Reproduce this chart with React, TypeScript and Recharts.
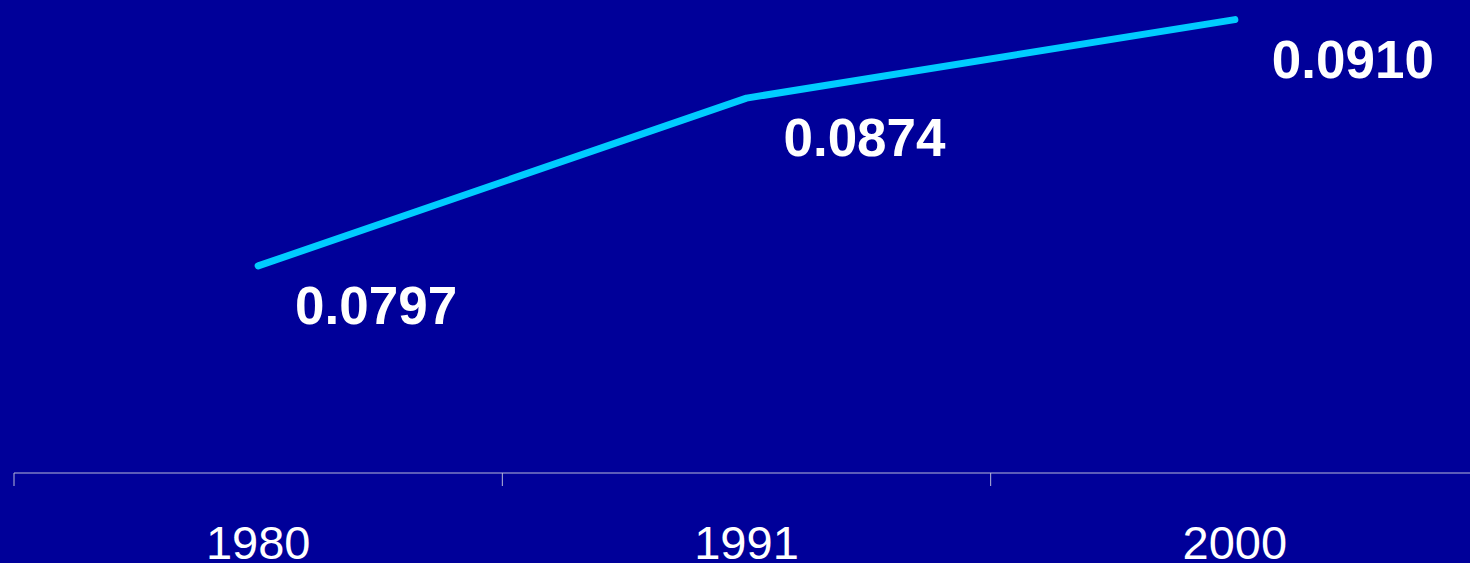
import React from "react";
import { LineChart, Line, XAxis, YAxis, LabelList } from "recharts";

const years = ["1980", "1991", "2000"];
const values = [0.0797, 0.0874, 0.091];

const data = years.map((year, i) => ({ year, value: values[i] }));

const BG = "#000099";
const LINE = "#00CCFF";
const AXIS = "#B8B8D8";
const FONT = "'Liberation Sans', Arial, sans-serif";

const CHART_W = 1484;
const MARGIN_L = 14;
const MARGIN_R = 5;
const BAND = (CHART_W - MARGIN_L - MARGIN_R) / years.length;

function YearTick(props: any) {
  const { x, y, payload } = props;
  return (
    <g>
      <line x1={x - BAND / 2} x2={x - BAND / 2} y1={y} y2={y + 13} stroke={AXIS} strokeWidth={1} />
      <text x={x} y={y + 86} textAnchor="middle" fill="#ffffff" fontSize={47} fontFamily={FONT}>
        {payload.value}
      </text>
    </g>
  );
}

function ValueLabel(props: any) {
  const { x, y, value } = props;
  return (
    <text x={x + 118} y={y + 58} textAnchor="middle" fill="#ffffff" fontSize={53} fontWeight="bold" fontFamily={FONT}>
      {Number(value).toFixed(4)}
    </text>
  );
}

export default function App() {
  return (
    <div style={{ position: "absolute", left: 0, top: 0, width: 1470, height: 563, overflow: "hidden", background: BG }}>
      <LineChart width={CHART_W} height={563} data={data} margin={{ top: 0, right: MARGIN_R, bottom: 0, left: MARGIN_L }}>
        <XAxis
          dataKey="year"
          scale="band"
          height={90}
          stroke={AXIS}
          tickLine={false}
          tickSize={0}
          tickMargin={0}
          tick={<YearTick />}
          interval={0}
        />
        <YAxis hide domain={[0.0702, 0.0919]} />
        <Line
          dataKey="value"
          stroke={LINE}
          strokeWidth={7}
          strokeLinecap="round"
          strokeLinejoin="round"
          dot={false}
          activeDot={false}
          isAnimationActive={false}
        >
          <LabelList dataKey="value" content={<ValueLabel />} />
        </Line>
      </LineChart>
    </div>
  );
}
